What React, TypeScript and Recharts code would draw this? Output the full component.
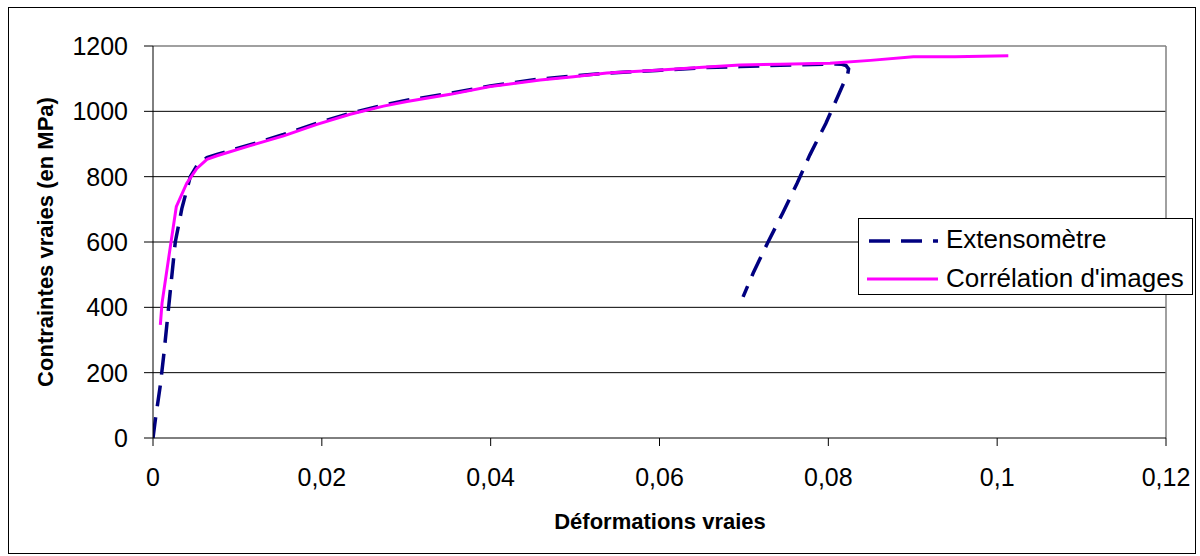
import React from "react";
import { LineChart, Line, XAxis, YAxis, CartesianGrid, ReferenceLine, Legend, Label } from "recharts";

// ---- Data ----
const SERIES_NAMES = ["Extensomètre", "Corrélation d'images"];

const extStrain = [
  0, 0.0003, 0.00087, 0.0013, 0.00185, 0.00264, 0.00343, 0.00442, 0.00536, 0.00639, 0.00758,
  0.01152, 0.01547, 0.01942, 0.02336, 0.02731, 0.03008, 0.03521, 0.03994, 0.04587, 0.04981,
  0.05376, 0.05968, 0.06561, 0.06955, 0.07429, 0.0808, 0.0816, 0.0821, 0.0824, 0.0823,
  0.0813, 0.0797, 0.0778, 0.0763, 0.0746, 0.0728, 0.0711, 0.0699,
];
const extStress = [
  0, 60, 162, 260, 400, 600, 704, 800, 841, 858, 868,
  898, 929, 964, 994, 1019, 1034, 1055, 1078, 1099, 1108,
  1117, 1125, 1134, 1137, 1141, 1145, 1144, 1140, 1130, 1115,
  1056, 963, 866, 780, 689, 597, 505, 432,
];

const corStrain = [
  0.00087, 0.00107, 0.00205, 0.00276, 0.004, 0.0052, 0.00639, 0.00758, 0.01152, 0.01547,
  0.01942, 0.02336, 0.02731, 0.03008, 0.03521, 0.03994, 0.04587, 0.04981, 0.05376, 0.05968,
  0.06561, 0.06955, 0.07429, 0.08021, 0.085, 0.09007, 0.095, 0.10132,
];
const corStress = [
  346, 413, 585, 708, 780, 825, 853, 864, 895, 925,
  960, 991, 1016, 1030, 1052, 1076, 1096, 1106, 1117, 1126,
  1136, 1142, 1144, 1147, 1156, 1167, 1167, 1170,
];

const xTicks = [0, 0.02, 0.04, 0.06, 0.08, 0.1, 0.12];
const yTicks = [0, 200, 400, 600, 800, 1000, 1200];
const xTitle = "Déformations vraies";
const yTitle = "Contraintes vraies (en MPa)";

const extData = extStrain.map((x, i) => ({ x, y: extStress[i] }));
const corData = corStrain.map((x, i) => ({ x, y: corStress[i] }));

const FONT = "'Liberation Sans', Arial, sans-serif";
const NAVY = "#000080";
const MAGENTA = "#FF00FF";

const fmtX = (v: number) => (v === 0 ? "0" : String(v).replace(".", ","));

const LegendBox = () => (
  <div
    style={{
      width: 335,
      height: 77,
      border: "1px solid #000",
      background: "#fff",
      boxSizing: "border-box",
      position: "relative",
      fontFamily: FONT,
      fontSize: 26,
      color: "#000",
      lineHeight: "26px",
    }}
  >
    <svg width={84} height={75} style={{ position: "absolute", left: 0, top: 0 }}>
      <line x1={10} x2={79} y1={22} y2={22} stroke={NAVY} strokeWidth={3.5} strokeDasharray="21 11" />
      <line x1={8} x2={79} y1={60} y2={60} stroke={MAGENTA} strokeWidth={3} />
    </svg>
    <span style={{ position: "absolute", left: 87, top: 7, whiteSpace: "nowrap" }}>{SERIES_NAMES[0]}</span>
    <span style={{ position: "absolute", left: 87, top: 46, whiteSpace: "nowrap" }}>{SERIES_NAMES[1]}</span>
  </div>
);

export default function App() {
  return (
    <div style={{ position: "absolute", left: 0, top: 0, width: 1200, height: 556, background: "#fff" }}>
      <div
        style={{
          position: "absolute",
          left: 8,
          top: 7,
          width: 1188,
          height: 547,
          border: "1px solid #000",
          boxSizing: "border-box",
        }}
      />
      <div style={{ position: "absolute", left: 0, top: 0 }}>
        <LineChart
          width={1200}
          height={556}
          margin={{ top: 46, right: 34, bottom: 58, left: 0 }}
          style={{ fontFamily: FONT }}
        >
          <CartesianGrid horizontal vertical={false} stroke="#000" horizontalValues={[200, 400, 600, 800, 1000]} />
          <XAxis
            type="number"
            dataKey="x"
            domain={[0, 0.12]}
            ticks={xTicks}
            tickFormatter={fmtX}
            allowDataOverflow
            height={60}
            stroke="#000"
            tickSize={8}
            tickMargin={22}
            tick={{ fill: "#000", fontSize: 25, fontFamily: FONT }}
            interval={0}
          >
            <Label
              content={() => (
                <text x={660} y={529} textAnchor="middle" fontFamily={FONT} fontWeight="bold" fontSize={22} fill="#000">
                  {xTitle}
                </text>
              )}
            />
          </XAxis>
          <YAxis
            type="number"
            dataKey="y"
            domain={[0, 1200]}
            ticks={yTicks}
            width={153}
            stroke="#000"
            tickSize={9}
            tickMargin={16}
            tick={{ fill: "#000", fontSize: 25, fontFamily: FONT }}
            interval={0}
          >
            <Label
              content={() => (
                <text
                  x={53}
                  y={242}
                  transform="rotate(-90 53 242)"
                  textAnchor="middle"
                  fontFamily={FONT}
                  fontWeight="bold"
                  fontSize={22}
                  fill="#000"
                >
                  {yTitle}
                </text>
              )}
            />
          </YAxis>
          <ReferenceLine y={1200} stroke="#808080" strokeWidth={1.5} />
          <ReferenceLine x={0.12} stroke="#808080" strokeWidth={1.5} />
          <Line
            data={extData}
            dataKey="y"
            name={SERIES_NAMES[0]}
            type="linear"
            stroke={NAVY}
            strokeWidth={3.5}
            strokeDasharray="21 11"
            dot={false}
            activeDot={false}
            isAnimationActive={false}
          />
          <Line
            data={corData}
            dataKey="y"
            name={SERIES_NAMES[1]}
            type="linear"
            stroke={MAGENTA}
            strokeWidth={3}
            dot={false}
            activeDot={false}
            isAnimationActive={false}
          />
          <Legend
            layout="horizontal"
            verticalAlign="middle"
            align="center"
            width={335}
            height={77}
            wrapperStyle={{ left: 858, top: 218, width: 335, height: 77 }}
            content={() => <LegendBox />}
          />
        </LineChart>
      </div>
    </div>
  );
}
